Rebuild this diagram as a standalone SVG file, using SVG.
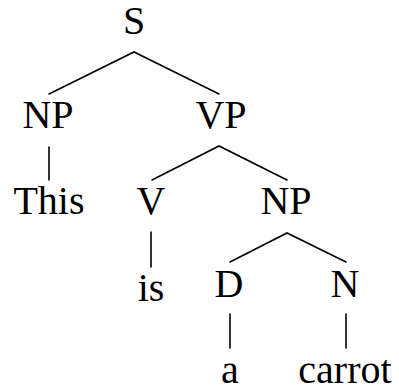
<svg xmlns="http://www.w3.org/2000/svg" width="399" height="387" viewBox="0 0 399 387">
<style>
.e{stroke:#000;stroke-width:1.6;fill:none;stroke-linecap:round}
</style>
<rect width="399" height="387" fill="#fff"/>
<g id="connectors">
<path class="e" d="M49,94 L134,52 L219,94"/>
<path class="e" d="M49,147 L49,180"/>
<path class="e" d="M152,180 L219,146 L287,180"/>
<path class="e" d="M151,232 L151,267"/>
<path class="e" d="M230,262 L287,233 L346,262"/>
<path class="e" d="M230,314 L230,348"/>
<path class="e" d="M346,314 L346,348"/>
</g>
<g font-family="Liberation Serif, Times New Roman, serif" font-size="40" fill="#000" text-anchor="middle">
<g id="S"><text x="134" y="34">S</text></g>
<g id="NP1"><text x="48" y="128">NP</text></g>
<g id="VP"><text x="221" y="128">VP</text></g>
<g id="This"><text x="49" y="214">This</text></g>
<g id="V"><text x="151" y="214">V</text></g>
<g id="NP2"><text x="286" y="214">NP</text></g>
<g id="is"><text x="151" y="301">is</text></g>
<g id="D"><text x="229" y="297">D</text></g>
<g id="N"><text x="345" y="297">N</text></g>
<g id="a"><text x="230" y="383">a</text></g>
<g id="carrot"><text x="345" y="383">carrot</text></g>
</g>
</svg>
